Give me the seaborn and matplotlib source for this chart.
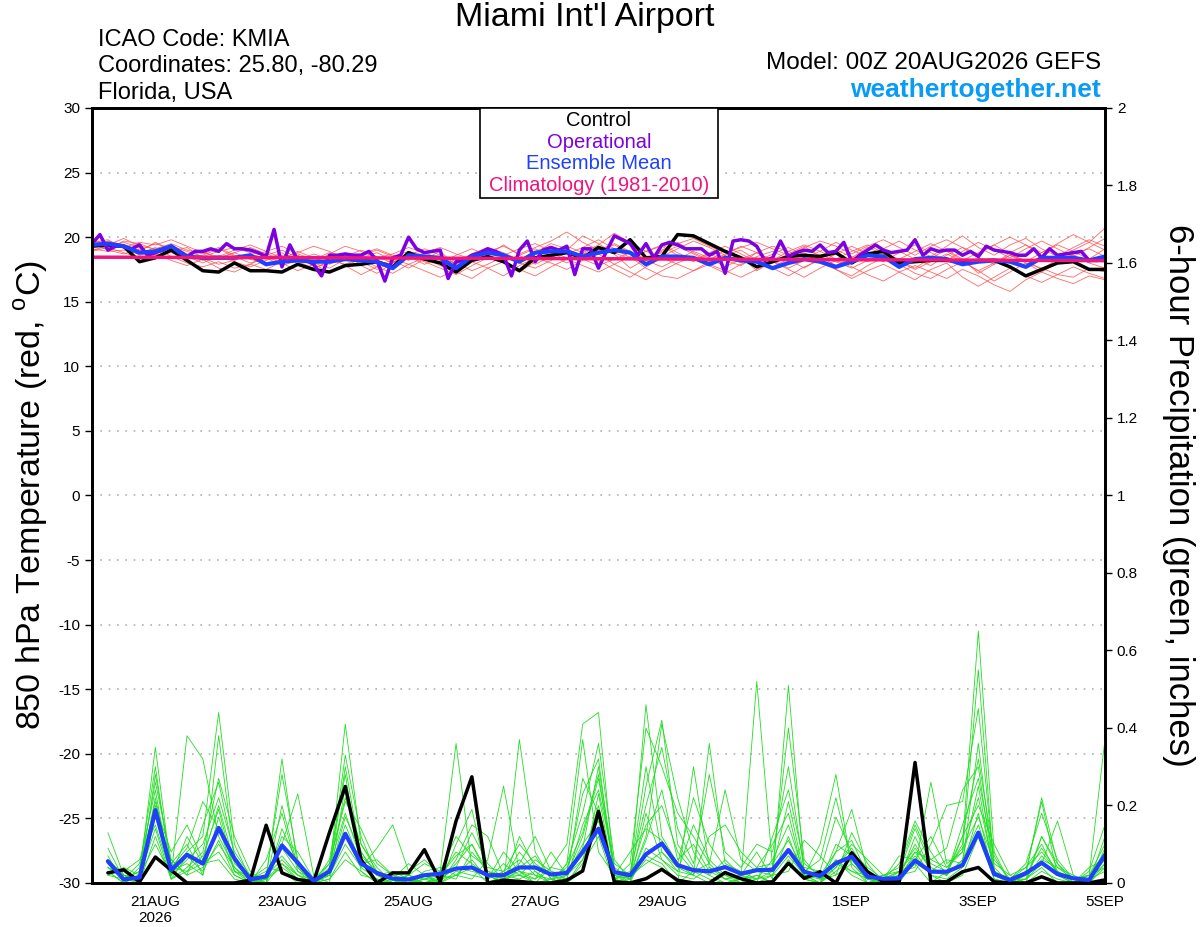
import numpy as np
import pandas as pd
import matplotlib
matplotlib.use('Agg')
import matplotlib.pyplot as plt
from matplotlib.patches import Rectangle
import seaborn as sns

# valid times (temperature 6-hourly, operational 3-hourly, precip accumulations start one step later)
temp_times = pd.date_range('2026-08-20 00:00', '2026-09-05 00:00', freq='6h')
oper_times = pd.date_range('2026-08-20 00:00', '2026-09-05 00:00', freq='3h')
precip_times = temp_times[1:]
clim_times = pd.date_range('2026-08-20', '2026-09-05', freq='D')

tick_dates = ['2026-08-21', '2026-08-23', '2026-08-25', '2026-08-27', '2026-08-29',
              '2026-09-01', '2026-09-03', '2026-09-05']
tick_labels = ['21AUG\n2026', '23AUG', '25AUG', '27AUG', '29AUG', '1SEP', '3SEP', '5SEP']

# 850 hPa temperature, deg C
control_temp = [19.3, 19.4, 19.3, 18.1, 18.4, 19.0, 18.2, 17.4, 17.3, 18.0, 17.4, 17.4, 17.3,
                17.9, 17.5, 17.3, 17.8, 17.9, 18.1, 17.7, 18.8, 18.3,
                18.0, 17.3, 18.2, 18.5, 18.1, 17.4, 18.4, 18.6, 18.8, 18.4, 19.2, 18.8, 19.8,
                18.4, 18.5, 20.2, 20.1, 19.5, 18.9, 18.4, 17.7,
                18.1, 18.5, 18.6, 18.5, 18.8, 18.0, 18.7, 18.9, 18.0, 18.1, 18.2, 18.2, 18.1,
                18.2, 18.2, 17.7, 17.0, 17.5, 18.0, 18.1, 17.5, 17.5]
mean_temp = [19.4, 19.5, 19.3, 18.8, 18.9, 19.3, 18.5, 18.4, 18.4, 18.4, 18.6, 17.9, 18.1,
             18.2, 18.1, 18.1, 18.3, 18.2, 18.1, 17.6, 18.6, 18.5,
             18.4, 17.6, 18.5, 18.8, 18.6, 18.1, 18.8, 18.9, 18.9, 18.5, 18.8, 19.0, 18.8,
             17.9, 18.5, 18.5, 18.4, 17.9, 18.4, 18.2, 18.1,
             17.6, 18.0, 18.3, 18.1, 17.7, 18.1, 18.6, 18.5, 17.7, 18.3, 18.4, 18.3, 17.9,
             18.1, 18.2, 18.1, 17.7, 18.4, 18.4, 18.4, 18.2, 18.5]
oper_temp = [19.5, 20.2, 19.0, 19.3, 19.3, 19.1, 19.4, 18.6, 18.8, 19.0, 19.3, 18.8, 18.5,
             18.9, 18.9, 19.1, 18.9, 19.5, 19.1, 19.1, 19.0, 18.8, 18.5, 20.6, 17.7, 19.4,
             18.2, 18.2, 17.9, 17.0, 18.6, 18.6, 18.7, 18.6, 18.6, 18.9, 18.2, 16.6, 18.4,
             18.6, 20.0, 19.1, 18.8,
             18.9, 19.0, 16.8, 18.1, 18.2, 18.6, 18.8, 19.1, 18.9, 18.6, 17.0, 19.0, 19.7,
             18.1, 19.0, 19.2, 19.0, 19.3, 17.1, 19.1, 19.1, 17.6, 18.9, 20.1, 19.8, 19.5,
             18.6, 19.5, 18.4, 19.4, 19.6, 19.4, 19.1, 19.1, 19.1, 18.6, 18.9, 17.2, 19.7,
             19.8, 19.7, 19.3, 18.2,
             18.4, 19.7, 18.5, 18.8, 19.0, 18.9, 19.4, 18.8, 18.9, 19.6, 18.1, 18.6, 19.0,
             19.4, 19.0, 18.8, 18.9, 19.0, 19.8, 18.6, 19.1, 18.9, 19.0, 19.0, 18.6, 18.9,
             18.5, 19.3, 19.0, 18.9, 18.8, 18.6, 18.6, 19.1, 18.4, 19.1, 18.6, 18.7, 18.8,
             18.9, 18.2, 18.2, 18.4]
clim_temp = [18.45, 18.44, 18.42, 18.41, 18.40, 18.38, 18.36, 18.35, 18.33,
             18.31, 18.29, 18.27, 18.25, 18.24, 18.22, 18.20, 18.18]

# ensemble members, temperature
r01 = [19.2, 19.5, 19.3, 18.6, 18.9, 19.4, 18.7, 18.2, 18.4, 18.8, 18.3, 17.9, 18.2,
       18.6, 18.0, 17.6, 18.3, 18.5, 18.1, 17.7, 18.9, 18.6, 18.2, 17.4, 18.7, 19.1,
       18.8, 18.2, 18.9, 19.3, 18.7, 19.2, 19.8, 19.1, 18.4, 18.9, 19.3, 18.6, 18.1,
       18.7, 18.2, 17.8, 18.5, 18.9, 18.3, 17.6, 18.4, 19.0, 18.5, 18.1, 18.6, 18.9,
       18.3, 17.8, 18.6, 19.2, 18.4, 17.9, 18.8, 19.4, 18.6, 18.1, 18.7, 19.1, 18.5]
r02 = [19.6, 19.8, 19.1, 18.9, 19.6, 19.0, 18.3, 18.6, 19.1, 18.5, 18.0, 18.4, 17.8,
       18.2, 18.7, 18.3, 17.9, 18.4, 18.8, 18.2, 17.6, 18.3, 18.9, 17.8, 18.2, 18.6,
       19.4, 18.6, 17.9, 18.5, 19.0, 20.1, 19.5, 18.7, 17.6, 18.3, 18.9, 19.6, 18.8,
       18.2, 19.0, 18.5, 17.4, 18.1, 18.7, 19.3, 18.5, 17.8, 18.4, 19.2, 18.7, 18.2,
       17.6, 18.4, 19.0, 18.3, 17.2, 17.9, 18.6, 18.2, 17.5, 18.3, 19.0, 19.6, 20.7]
r03 = [19.0, 19.3, 19.6, 19.2, 18.5, 18.9, 19.2, 18.4, 17.9, 18.2, 18.7, 18.3, 18.8,
       17.9, 17.5, 18.2, 18.8, 17.8, 17.2, 18.0, 18.5, 18.1, 17.6, 17.1, 17.8, 18.4,
       18.0, 17.3, 18.1, 18.7, 19.3, 18.8, 18.2, 17.5, 16.9, 17.7, 18.4, 17.9, 17.4,
       18.1, 18.6, 19.0, 18.2, 17.7, 18.3, 18.8, 18.0, 17.5, 17.0, 17.8, 18.4, 17.9,
       17.2, 16.8, 17.5, 18.1, 17.4, 16.6, 17.3, 18.0, 17.6, 17.1, 16.9, 17.6, 17.3]
r04 = [19.4, 19.1, 19.7, 19.5, 19.0, 19.3, 18.9, 18.5, 18.9, 19.2, 18.8, 18.6, 19.0,
       18.4, 18.0, 18.7, 19.3, 18.9, 18.4, 18.7, 19.2, 18.8, 18.3, 18.0, 18.5, 19.0,
       18.6, 19.1, 19.5, 18.9, 18.4, 18.8, 19.4, 20.3, 19.6, 18.9, 18.5, 19.1, 19.7,
       19.2, 18.6, 18.0, 18.8, 19.3, 18.9, 18.4, 18.9, 19.6, 19.0, 18.5, 19.1, 19.7,
       19.0, 18.5, 19.3, 20.1, 19.2, 18.6, 19.4, 19.9, 19.1, 18.5, 19.2, 19.8, 19.3]
r05 = [19.1, 18.9, 19.0, 18.7, 19.2, 18.5, 18.0, 17.7, 18.1, 17.6, 17.9, 18.5, 18.0,
       17.4, 17.9, 18.4, 17.8, 17.1, 17.7, 18.3, 17.9, 17.4, 16.9, 17.5, 18.1, 17.6,
       17.0, 17.8, 18.4, 18.0, 17.5, 18.2, 18.7, 17.9, 17.3, 16.7, 17.4, 18.0, 18.5,
       17.8, 17.2, 17.9, 18.4, 17.6, 17.0, 17.7, 18.2, 17.5, 16.8, 17.4, 17.9, 17.3,
       16.7, 17.5, 18.0, 16.9, 16.2, 16.9, 17.6, 17.0, 16.5, 17.1, 17.7, 17.2, 16.8]
r06 = [19.8, 19.5, 19.2, 19.6, 19.4, 19.8, 19.3, 18.8, 18.5, 19.0, 19.4, 18.9, 18.4,
       18.8, 19.3, 18.9, 18.3, 18.7, 19.1, 18.6, 18.2, 18.8, 19.2, 18.7, 18.3, 18.9,
       19.3, 18.7, 19.2, 19.7, 20.4, 19.6, 19.0, 19.4, 18.8, 18.2, 19.0, 19.5, 19.9,
       19.3, 18.8, 19.2, 19.6, 19.1, 18.6, 19.2, 19.7, 19.3, 18.7, 19.3, 19.8, 19.2,
       18.6, 19.3, 19.8, 19.2, 18.7, 19.4, 20.0, 19.4, 18.8, 19.5, 20.2, 19.6, 19.0]
r07 = [18.9, 19.2, 18.8, 18.4, 18.7, 18.2, 17.8, 18.3, 17.6, 17.3, 17.9, 17.5, 18.1,
       18.5, 17.9, 17.3, 17.8, 18.3, 17.7, 17.2, 17.9, 18.4, 17.8, 17.3, 16.8, 17.6,
       18.1, 17.5, 17.0, 17.7, 18.3, 17.8, 17.3, 17.9, 18.5, 17.6, 17.0, 16.8, 17.4,
       17.9, 17.4, 16.9, 17.5, 18.1, 17.5, 16.9, 17.6, 18.2, 17.7, 17.1, 16.6, 17.3,
       17.8, 17.3, 16.8, 17.5, 17.0, 16.3, 15.8, 16.7, 17.3, 16.8, 16.4, 17.0, 16.7]
r08 = [19.3, 19.7, 19.4, 19.0, 19.5, 19.1, 18.6, 18.9, 18.3, 18.8, 19.2, 18.7, 18.3,
       18.9, 18.4, 17.9, 18.5, 19.0, 18.5, 18.0, 18.6, 19.1, 18.6, 18.1, 18.7, 19.2,
       18.7, 18.2, 18.8, 19.5, 19.1, 18.5, 19.0, 19.5, 18.9, 18.3, 18.8, 19.3, 18.7,
       18.1, 18.7, 19.3, 18.8, 18.2, 18.9, 19.4, 18.9, 18.3, 18.9, 19.4, 18.8, 18.3,
       18.9, 19.5, 18.9, 18.2, 18.8, 19.4, 18.7, 18.1, 18.8, 19.4, 18.9, 18.3, 19.1]
r09 = [19.5, 19.0, 18.7, 19.1, 18.6, 18.8, 18.5, 18.0, 18.6, 18.1, 17.7, 18.2, 18.6,
       18.1, 17.6, 18.1, 18.6, 18.1, 17.5, 18.1, 18.5, 17.9, 18.4, 18.0, 17.4, 17.9,
       18.5, 18.0, 17.6, 18.2, 18.8, 18.3, 17.8, 18.3, 18.8, 18.2, 17.7, 18.3, 18.9,
       18.4, 17.7, 18.3, 18.8, 18.2, 17.6, 18.2, 18.7, 18.1, 17.6, 18.2, 18.7, 18.1,
       17.5, 18.1, 18.7, 18.1, 17.4, 18.0, 18.6, 18.0, 17.3, 18.0, 18.6, 18.0, 17.6]
r10 = [19.7, 19.4, 19.9, 19.3, 19.1, 19.5, 19.0, 18.7, 19.2, 18.6, 18.4, 18.9, 19.3,
       18.7, 18.3, 18.8, 18.2, 18.6, 19.0, 18.5, 18.9, 18.4, 18.0, 18.6, 19.1, 18.6,
       18.1, 18.6, 19.1, 18.6, 18.0, 18.7, 19.3, 18.8, 18.3, 18.9, 19.4, 18.8, 18.2,
       18.8, 19.3, 18.7, 18.1, 18.7, 19.2, 18.6, 18.0, 18.7, 19.3, 18.7, 18.1, 18.8,
       19.4, 18.8, 18.2, 18.9, 19.6, 19.0, 18.4, 19.1, 19.7, 19.1, 18.5, 19.2, 19.9]

# 6-hour precipitation, inches
control_precip = [0.026, 0.034, 0.003, 0.067, 0.033, 0, 0, 0,
                  0, 0.007, 0.149, 0.026, 0.009, 0.003, 0.13, 0.249,
                  0.060, 0, 0.026, 0.026, 0.086, 0.003, 0.16, 0.274,
                  0, 0.007, 0.004, 0, 0, 0.007, 0.031, 0.185,
                  0.003, 0, 0.011, 0.035, 0.007, 0, 0, 0.027,
                  0.011, 0, 0.003, 0.051, 0.012, 0.029, 0, 0.078,
                  0.029, 0.003, 0.003, 0.311, 0.003, 0.003, 0.029, 0.040,
                  0.003, 0, 0, 0.016, 0, 0, 0, 0.008]
mean_precip = [0.056, 0.009, 0.014, 0.188, 0.033, 0.073, 0.050, 0.142,
               0.063, 0.009, 0.017, 0.097, 0.052, 0.005, 0.030, 0.127,
               0.050, 0.026, 0.011, 0.009, 0.020, 0.024, 0.037, 0.040,
               0.020, 0.020, 0.040, 0.040, 0.022, 0.026, 0.080, 0.140,
               0.028, 0.020, 0.074, 0.102, 0.046, 0.033, 0.030, 0.041,
               0.024, 0.033, 0.034, 0.085, 0.029, 0.018, 0.051, 0.068,
               0.016, 0.011, 0.012, 0.058, 0.029, 0.029, 0.046, 0.130,
               0.023, 0.008, 0.025, 0.052, 0.023, 0.012, 0.008, 0.072]

# ensemble members, precipitation
g01 = [0.05, 0.01, 0.02, 0.35, 0.03, 0.08, 0.12, 0.44, 0.10, 0.01, 0.00, 0.05, 0.02, 0.00, 0.04, 0.18,
       0.06, 0.02, 0.00, 0.01, 0.00, 0.01, 0.05, 0.10, 0.02, 0.00, 0.37, 0.08, 0.01, 0.00, 0.06, 0.20,
       0.01, 0.00, 0.46, 0.12, 0.05, 0.02, 0.00, 0.03, 0.00, 0.02, 0.00, 0.06, 0.01, 0.00, 0.04, 0.09,
       0.02, 0.00, 0.01, 0.05, 0.00, 0.03, 0.10, 0.65, 0.08, 0.00, 0.01, 0.04, 0.00, 0.00, 0.02, 0.10]
g02 = [0.07, 0.00, 0.04, 0.30, 0.02, 0.38, 0.32, 0.12, 0.04, 0.00, 0.02, 0.28, 0.06, 0.00, 0.03, 0.41,
       0.10, 0.03, 0.01, 0.00, 0.02, 0.00, 0.02, 0.06, 0.01, 0.05, 0.02, 0.00, 0.04, 0.10, 0.41, 0.44,
       0.02, 0.01, 0.06, 0.04, 0.00, 0.30, 0.04, 0.01, 0.02, 0.08, 0.01, 0.51, 0.02, 0.00, 0.06, 0.02,
       0.00, 0.01, 0.03, 0.04, 0.26, 0.05, 0.08, 0.55, 0.03, 0.00, 0.02, 0.22, 0.05, 0.00, 0.01, 0.05]
g03 = [0.13, 0.02, 0.00, 0.28, 0.05, 0.10, 0.02, 0.38, 0.06, 0.02, 0.01, 0.32, 0.04, 0.00, 0.06, 0.28,
       0.03, 0.00, 0.00, 0.02, 0.05, 0.03, 0.36, 0.04, 0.00, 0.02, 0.01, 0.03, 0.00, 0.05, 0.18, 0.36,
       0.06, 0.01, 0.12, 0.41, 0.22, 0.08, 0.02, 0.00, 0.01, 0.52, 0.04, 0.40, 0.06, 0.01, 0.02, 0.05,
       0.01, 0.00, 0.02, 0.10, 0.03, 0.06, 0.05, 0.36, 0.02, 0.01, 0.03, 0.05, 0.16, 0.02, 0.00, 0.04]
g04 = [0.04, 0.01, 0.05, 0.24, 0.01, 0.04, 0.08, 0.27, 0.12, 0.03, 0.00, 0.10, 0.23, 0.02, 0.00, 0.25,
       0.08, 0.02, 0.01, 0.00, 0.03, 0.04, 0.02, 0.01, 0.06, 0.25, 0.03, 0.01, 0.08, 0.02, 0.12, 0.27,
       0.03, 0.00, 0.18, 0.06, 0.03, 0.02, 0.36, 0.05, 0.03, 0.01, 0.06, 0.15, 0.02, 0.10, 0.28, 0.04,
       0.00, 0.02, 0.01, 0.12, 0.03, 0.02, 0.15, 0.27, 0.06, 0.01, 0.04, 0.10, 0.02, 0.00, 0.03, 0.15]
g05 = [0.03, 0.00, 0.02, 0.20, 0.08, 0.15, 0.06, 0.20, 0.05, 0.01, 0.02, 0.06, 0.02, 0.01, 0.05, 0.21,
       0.14, 0.05, 0.02, 0.00, 0.01, 0.02, 0.08, 0.05, 0.02, 0.00, 0.12, 0.04, 0.02, 0.00, 0.03, 0.23,
       0.01, 0.05, 0.40, 0.30, 0.18, 0.12, 0.05, 0.24, 0.06, 0.03, 0.02, 0.03, 0.11, 0.07, 0.02, 0.13,
       0.05, 0.00, 0.02, 0.03, 0.10, 0.20, 0.21, 0.45, 0.04, 0.00, 0.02, 0.06, 0.04, 0.01, 0.02, 0.37]
g06 = [0.06, 0.02, 0.01, 0.18, 0.04, 0.09, 0.21, 0.14, 0.03, 0.00, 0.06, 0.18, 0.03, 0.01, 0.02, 0.15,
       0.05, 0.06, 0.02, 0.01, 0.00, 0.01, 0.04, 0.13, 0.05, 0.01, 0.02, 0.06, 0.03, 0.01, 0.27, 0.18,
       0.00, 0.02, 0.05, 0.08, 0.03, 0.15, 0.06, 0.02, 0.00, 0.04, 0.10, 0.18, 0.01, 0.02, 0.05, 0.03,
       0.02, 0.01, 0.05, 0.16, 0.08, 0.02, 0.12, 0.20, 0.10, 0.02, 0.00, 0.12, 0.04, 0.02, 0.00, 0.09]
g07 = [0.02, 0.01, 0.00, 0.12, 0.01, 0.03, 0.05, 0.08, 0.02, 0.00, 0.01, 0.04, 0.01, 0.00, 0.01, 0.08,
       0.02, 0.01, 0.00, 0.00, 0.01, 0.00, 0.03, 0.02, 0.01, 0.08, 0.03, 0.00, 0.01, 0.00, 0.05, 0.12,
       0.00, 0.01, 0.07, 0.05, 0.00, 0.03, 0.01, 0.00, 0.01, 0.02, 0.00, 0.05, 0.01, 0.00, 0.03, 0.06,
       0.01, 0.00, 0.01, 0.08, 0.02, 0.00, 0.02, 0.12, 0.01, 0.00, 0.00, 0.03, 0.01, 0.00, 0.01, 0.06]
g08 = [0.05, 0.03, 0.06, 0.15, 0.02, 0.06, 0.10, 0.22, 0.08, 0.02, 0.00, 0.14, 0.05, 0.00, 0.02, 0.12,
       0.04, 0.09, 0.15, 0.03, 0.06, 0.02, 0.01, 0.08, 0.03, 0.02, 0.05, 0.12, 0.03, 0.02, 0.09, 0.30,
       0.04, 0.01, 0.25, 0.42, 0.10, 0.04, 0.02, 0.06, 0.02, 0.01, 0.03, 0.08, 0.04, 0.03, 0.17, 0.08,
       0.04, 0.01, 0.07, 0.06, 0.12, 0.04, 0.09, 0.17, 0.05, 0.02, 0.04, 0.08, 0.03, 0.01, 0.02, 0.04]
g09 = [0.09, 0.01, 0.03, 0.26, 0.06, 0.02, 0.04, 0.10, 0.04, 0.01, 0.03, 0.07, 0.02, 0.00, 0.03, 0.33,
       0.12, 0.02, 0.00, 0.01, 0.02, 0.00, 0.10, 0.19, 0.01, 0.03, 0.06, 0.02, 0.00, 0.05, 0.37, 0.08,
       0.02, 0.08, 0.14, 0.11, 0.05, 0.22, 0.10, 0.04, 0.02, 0.00, 0.12, 0.24, 0.05, 0.02, 0.08, 0.19,
       0.03, 0.01, 0.00, 0.06, 0.03, 0.02, 0.06, 0.15, 0.03, 0.01, 0.05, 0.18, 0.06, 0.01, 0.00, 0.12]
g10 = [0.04, 0.02, 0.01, 0.22, 0.03, 0.05, 0.02, 0.17, 0.03, 0.01, 0.04, 0.03, 0.00, 0.01, 0.02, 0.30,
       0.07, 0.03, 0.01, 0.05, 0.02, 0.00, 0.06, 0.15, 0.12, 0.02, 0.02, 0.01, 0.04, 0.03, 0.23, 0.32,
       0.01, 0.03, 0.20, 0.35, 0.14, 0.05, 0.28, 0.08, 0.04, 0.10, 0.08, 0.30, 0.03, 0.06, 0.22, 0.05,
       0.01, 0.02, 0.04, 0.15, 0.06, 0.09, 0.24, 0.30, 0.02, 0.00, 0.03, 0.21, 0.02, 0.00, 0.04, 0.06]
g11 = [0.03, 0.00, 0.02, 0.10, 0.02, 0.12, 0.05, 0.06, 0.01, 0.00, 0.02, 0.09, 0.03, 0.00, 0.01, 0.06,
       0.03, 0.00, 0.01, 0.02, 0.00, 0.01, 0.02, 0.04, 0.02, 0.00, 0.04, 0.07, 0.01, 0.02, 0.10, 0.16,
       0.02, 0.00, 0.09, 0.06, 0.02, 0.01, 0.04, 0.02, 0.01, 0.00, 0.02, 0.07, 0.02, 0.01, 0.06, 0.03,
       0.01, 0.01, 0.03, 0.09, 0.04, 0.02, 0.06, 0.25, 0.02, 0.01, 0.01, 0.05, 0.02, 0.00, 0.01, 0.03]
g12 = [0.06, 0.02, 0.00, 0.17, 0.06, 0.02, 0.15, 0.26, 0.07, 0.01, 0.00, 0.20, 0.04, 0.00, 0.05, 0.22,
       0.10, 0.04, 0.00, 0.02, 0.01, 0.03, 0.12, 0.07, 0.04, 0.03, 0.10, 0.05, 0.02, 0.01, 0.15, 0.24,
       0.05, 0.02, 0.30, 0.08, 0.04, 0.02, 0.12, 0.15, 0.08, 0.04, 0.05, 0.11, 0.03, 0.01, 0.04, 0.10,
       0.06, 0.02, 0.03, 0.14, 0.05, 0.03, 0.12, 0.32, 0.07, 0.00, 0.01, 0.12, 0.05, 0.01, 0.02, 0.08]
g13 = [0.02, 0.04, 0.02, 0.14, 0.01, 0.07, 0.03, 0.11, 0.02, 0.00, 0.01, 0.05, 0.01, 0.00, 0.02, 0.10,
       0.04, 0.01, 0.00, 0.00, 0.01, 0.01, 0.04, 0.03, 0.02, 0.01, 0.08, 0.03, 0.00, 0.02, 0.06, 0.14,
       0.01, 0.02, 0.15, 0.20, 0.08, 0.03, 0.05, 0.01, 0.00, 0.01, 0.02, 0.12, 0.01, 0.00, 0.10, 0.07,
       0.00, 0.01, 0.02, 0.07, 0.02, 0.01, 0.04, 0.18, 0.01, 0.00, 0.01, 0.07, 0.03, 0.00, 0.00, 0.05]
g14 = [0.04, 0.01, 0.03, 0.21, 0.04, 0.03, 0.07, 0.19, 0.03, 0.02, 0.01, 0.12, 0.08, 0.01, 0.02, 0.17,
       0.08, 0.02, 0.03, 0.01, 0.00, 0.02, 0.07, 0.10, 0.03, 0.01, 0.03, 0.02, 0.01, 0.04, 0.13, 0.28,
       0.03, 0.01, 0.11, 0.24, 0.06, 0.10, 0.03, 0.01, 0.02, 0.03, 0.04, 0.21, 0.02, 0.00, 0.08, 0.11,
       0.02, 0.00, 0.03, 0.08, 0.06, 0.04, 0.08, 0.22, 0.03, 0.01, 0.02, 0.09, 0.03, 0.01, 0.01, 0.07]

temp_members = [r01, r02, r03, r04, r05, r06, r07, r08, r09, r10]
precip_members = [g01, g02, g03, g04, g05, g06, g07, g08, g09, g10, g11, g12, g13, g14]

temp_df = pd.DataFrame({
    'time': np.tile(temp_times.values, len(temp_members)),
    'member': np.repeat(np.arange(len(temp_members)), len(temp_times)),
    'temp': np.concatenate(temp_members),
})
precip_df = pd.DataFrame({
    'time': np.tile(precip_times.values, len(precip_members)),
    'member': np.repeat(np.arange(len(precip_members)), len(precip_times)),
    'precip': np.concatenate(precip_members),
})

sns.set_style('white')
plt.rcParams['font.family'] = ['Liberation Sans', 'DejaVu Sans']
plt.rcParams['mathtext.fontset'] = 'custom'
plt.rcParams['mathtext.rm'] = 'Liberation Sans'
plt.rcParams['text.color'] = 'black'
plt.rcParams['axes.unicode_minus'] = False

fig = plt.figure(figsize=(12, 9.27), dpi=100)
ax = fig.add_axes([0.0767, 0.0475, 0.8441, 0.836])

# temperature
sns.lineplot(data=temp_df, x='time', y='temp', units='member', estimator=None,
             color='#ff4d4d', lw=0.6, alpha=0.85, ax=ax)
sns.lineplot(x=temp_times, y=control_temp, color='black', lw=2.5, ax=ax)
sns.lineplot(x=oper_times, y=oper_temp, color='#7d00e0', lw=2.5, ax=ax)
sns.lineplot(x=temp_times, y=mean_temp, color='#2040ff', lw=3, ax=ax)
sns.lineplot(x=clim_times, y=clim_temp, color='#f0147d', lw=2.5, ax=ax)

ax.set_ylim(-30, 30)
ax.set_yticks(range(-30, 31, 5))
ax.set_xlim(pd.Timestamp('2026-08-20'), pd.Timestamp('2026-09-05'))
ax.set_xticks(pd.to_datetime(tick_dates))
ax.set_xticklabels(tick_labels)
ax.grid(axis='y', color='#b0b0b0', linestyle=(0, (1, 4)), lw=1.2)
ax.set_xlabel('')
ax.set_ylabel('')

# precipitation on the right axis
ax2 = ax.twinx()
sns.lineplot(data=precip_df, x='time', y='precip', units='member', estimator=None,
             color='#22dd22', lw=0.6, ax=ax2)
sns.lineplot(x=precip_times, y=control_precip, color='black', lw=2.5, ax=ax2)
sns.lineplot(x=precip_times, y=mean_precip, color='#2040ff', lw=3, ax=ax2)
ax2.set_ylim(0, 2)
ax2.set_yticks(np.arange(0, 2.01, 0.2))
ax2.set_yticklabels(['0', '0.2', '0.4', '0.6', '0.8', '1', '1.2', '1.4', '1.6', '1.8', '2'])
ax2.set_xlim(pd.Timestamp('2026-08-20'), pd.Timestamp('2026-09-05'))
ax2.set_ylabel('')
ax2.grid(False)

for a in (ax, ax2):
    for s in a.spines.values():
        s.set_linewidth(2)
        s.set_color('black')
    a.tick_params(direction='out', length=5, width=1, labelsize=11, colors='black')

# titles and annotations
fig.text(0.4875, 0.981, "Miami Int'l Airport", ha='center', va='center', fontsize=24.5)
fig.text(0.0817, 0.957, 'ICAO Code: KMIA', ha='left', va='center', fontsize=17)
fig.text(0.0817, 0.929, 'Coordinates: 25.80, -80.29', ha='left', va='center', fontsize=17)
fig.text(0.0817, 0.900, 'Florida, USA', ha='left', va='center', fontsize=17)
fig.text(0.9175, 0.932, 'Model: 00Z 20AUG2026 GEFS', ha='right', va='center', fontsize=17.5)
fig.text(0.9175, 0.903, 'weathertogether.net', ha='right', va='center', fontsize=19,
         fontweight='bold', color='#0a9bf5')

fig.text(0.026, 0.466, r'850 hPa Temperature (red, $^{\mathrm{o}}$C)', rotation=90,
         ha='center', va='center', fontsize=24.5)
fig.text(0.982, 0.466, '6-hour Precipitation (green, inches)', rotation=270,
         ha='center', va='center', fontsize=25)

# legend box
fig.patches.append(Rectangle((0.400, 0.786), 0.198, 0.097, transform=fig.transFigure,
                             fill=True, facecolor='white', edgecolor='black', lw=1.2, zorder=5))
legend_items = [('Control', 'black', 0.8695), ('Operational', '#7d00e0', 0.8468),
                ('Ensemble Mean', '#2040ff', 0.8241), ('Climatology (1981-2010)', '#f0147d', 0.8004)]
for label, col, yy in legend_items:
    fig.text(0.499, yy, label, ha='center', va='center', fontsize=14.5, color=col, zorder=6)

fig.savefig('out.png', dpi=100)
